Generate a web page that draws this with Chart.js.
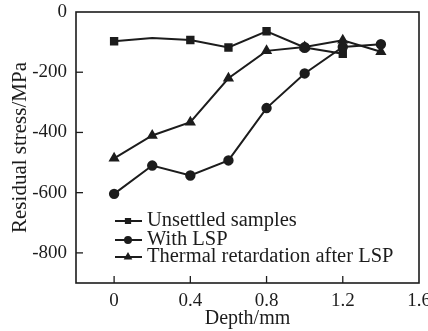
<!DOCTYPE html>
<html>
<head>
<meta charset="utf-8">
<script src="https://cdn.jsdelivr.net/npm/chart.js@4/dist/chart.umd.min.js"></script>
<style>
html,body{margin:0;padding:0;background:#fff;}
#wrap{width:428px;height:331px;position:relative;}
</style>
</head>
<body>
<div id="wrap"><canvas id="c" width="428" height="331"></canvas></div>
<script>
// ---- data ----
const seriesNames = ["Unsettled samples", "With LSP", "Thermal retardation after LSP"];
const unsettledX = [0, 0.2, 0.4, 0.6, 0.8, 1.0, 1.2];
const unsettledY = [-97, -86, -93, -118, -64, -118, -139];
const lspX = [0, 0.2, 0.4, 0.6, 0.8, 1.0, 1.2, 1.4];
const lspY = [-604, -510, -543, -493, -319, -204, -116, -107];
const thermalX = [0, 0.2, 0.4, 0.6, 0.8, 1.0, 1.2, 1.4];
const thermalY = [-486, -410, -366, -220, -129, -116, -94, -132];
const xTicks = [0, 0.4, 0.8, 1.2, 1.6];
const yTicks = [0, -200, -400, -600, -800];
const xTitle = "Depth/mm";
const yTitle = "Residual stress/MPa";

const FONT = "'Liberation Serif', 'Times New Roman', serif";
const INK = '#1c1c1c';

function pts(xs, ys){ return xs.map((x,i)=>({x:x, y:ys[i]})); }

const boxPlugin = {
  id:'box',
  afterDatasetsDraw(chart){
    const {ctx, chartArea:a, scales} = chart;
    ctx.save();
    ctx.strokeStyle = INK;
    ctx.lineWidth = 1.6;
    ctx.strokeRect(a.left, a.top, a.right-a.left, a.bottom-a.top);
    ctx.lineWidth = 1.3;
    // inward ticks
    xTicks.forEach(v=>{
      const px = scales.x.getPixelForValue(v);
      if (px > a.left+1 && px < a.right-1){
        ctx.beginPath(); ctx.moveTo(px, a.bottom); ctx.lineTo(px, a.bottom-7); ctx.stroke();
      }
    });
    yTicks.forEach(v=>{
      const py = scales.y.getPixelForValue(v);
      if (py > a.top+1 && py < a.bottom-1){
        ctx.beginPath(); ctx.moveTo(a.left, py); ctx.lineTo(a.left+7, py); ctx.stroke();
      }
    });
    // legend
    const styles = ['rect','circle','triangle'];
    const rows = [221, 240, 257];
    ctx.font = "20.5px " + FONT;
    ctx.fillStyle = INK;
    ctx.textBaseline = 'middle';
    seriesNames.forEach((name,i)=>{
      const y = rows[i];
      ctx.lineWidth = 2;
      ctx.beginPath(); ctx.moveTo(115, y); ctx.lineTo(142, y); ctx.stroke();
      Chart.helpers.drawPoint(ctx, {pointStyle: styles[i], radius: 3, borderWidth: 1}, 128, y);
      ctx.fillStyle = INK;
      ctx.fillText(name, 147, y);
    });
    ctx.restore();
  }
};

const common = {
  borderColor: INK, backgroundColor: INK, borderWidth: 2,
  pointBorderColor: INK, pointBackgroundColor: INK, showLine: true, tension: 0
};

new Chart(document.getElementById('c'), {
  type: 'scatter',
  data: {
    datasets: [
      Object.assign({}, common, {
        label: seriesNames[0], data: pts(unsettledX, unsettledY),
        pointStyle: ['rect','rect','rect','rect','rect','circle','rect'],
        pointRadius: [4.5,0,4.5,4.5,4.5,4.5,4.5]
      }),
      Object.assign({}, common, {
        label: seriesNames[1], data: pts(lspX, lspY),
        pointStyle: 'circle', pointRadius: 4.2
      }),
      Object.assign({}, common, {
        label: seriesNames[2], data: pts(thermalX, thermalY),
        pointStyle: 'triangle', pointRadius: 4.5
      })
    ]
  },
  options: {
    responsive: false, animation: false, devicePixelRatio: 1,
    layout: { padding: { top: 12, right: 9, left: 8, bottom: 0 } },
    plugins: { legend: {display:false}, tooltip: {enabled:false} },
    scales: {
      x: {
        type: 'linear', min: -0.2, max: 1.6,
        afterBuildTicks(s){ s.ticks = xTicks.map(v=>({value:v})); },
        afterFit(s){ s.height = 48; s.paddingLeft = 0; s.paddingRight = 0; },
        grid: { display: false, drawTicks: false },
        border: { display: false },
        ticks: { color: INK, font: { family: FONT, size: 19 }, padding: 7, maxRotation: 0,
                 callback: v => (v===0 ? '0' : v.toFixed(1)) },
        title: { display: true, text: xTitle, color: INK, font: { family: FONT, size: 20 }, padding: { top: 0, bottom: 0 } }
      },
      y: {
        type: 'linear', min: -900, max: 0,
        afterBuildTicks(s){ s.ticks = yTicks.map(v=>({value:v})); },
        afterFit(s){ s.width = 68; s.paddingTop = 0; s.paddingBottom = 0; },
        grid: { display: false, drawTicks: false },
        border: { display: false },
        ticks: { color: INK, font: { family: FONT, size: 19 }, padding: 9,
                 callback: v => String(v) },
        title: { display: true, text: yTitle, color: INK, font: { family: FONT, size: 21 }, padding: { top: 0, bottom: 0 } }
      }
    }
  },
  plugins: [boxPlugin]
});
</script>
</body>
</html>
